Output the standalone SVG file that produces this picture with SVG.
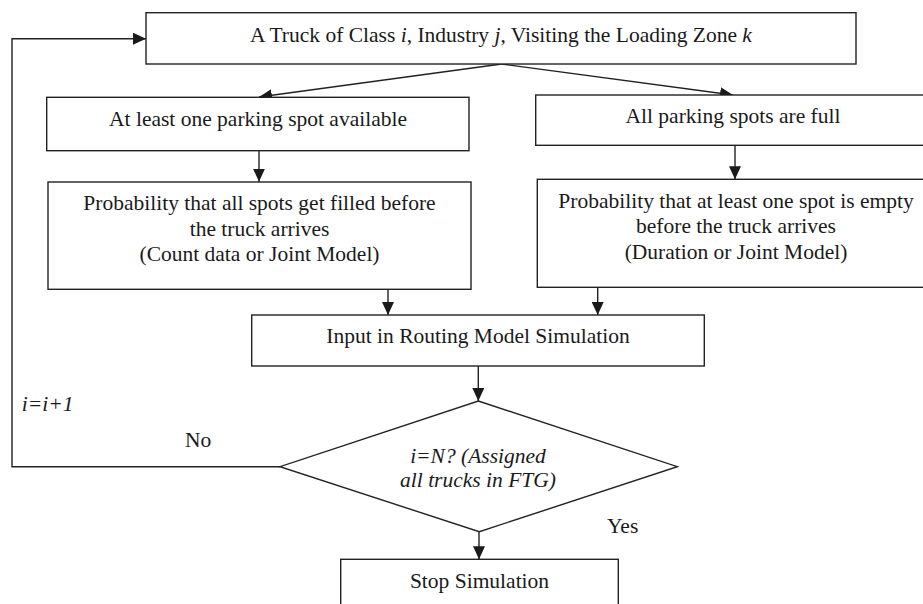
<svg xmlns="http://www.w3.org/2000/svg" width="923" height="604" viewBox="0 0 923 604">
<style>
.box{fill:#fff;stroke:#222;stroke-width:1.4}
.ln{fill:none;stroke:#222;stroke-width:1.4}
text{font-family:"Liberation Serif","Times New Roman",serif;font-size:21.5px;fill:#1a1a1a}
.c{text-anchor:middle}
.it{font-style:italic}
</style>
<defs>
<marker id="ah" markerUnits="userSpaceOnUse" markerWidth="13" markerHeight="12" refX="13" refY="6" orient="auto">
<path d="M0,0 L13,6 L0,12 z" fill="#1a1a1a"/>
</marker>
</defs>
<rect width="923" height="604" fill="#fff"/>
<g id="connectors">
<polyline class="ln" points="280,466.7 12,466.7 12,38.7 146,38.7" marker-end="url(#ah)"/>
<line class="ln" x1="501.7" y1="64" x2="259" y2="97" marker-end="url(#ah)"/>
<line class="ln" x1="501.7" y1="64" x2="733" y2="95" marker-end="url(#ah)"/>
<line class="ln" x1="259" y1="150.7" x2="259" y2="181.7" marker-end="url(#ah)"/>
<line class="ln" x1="735" y1="145.3" x2="735" y2="179.3" marker-end="url(#ah)"/>
<line class="ln" x1="388" y1="289.3" x2="388" y2="315" marker-end="url(#ah)"/>
<line class="ln" x1="597.7" y1="287.3" x2="597.7" y2="315" marker-end="url(#ah)"/>
<line class="ln" x1="478.3" y1="366" x2="478.3" y2="401" marker-end="url(#ah)"/>
<line class="ln" x1="479" y1="531.7" x2="479" y2="559.3" marker-end="url(#ah)"/>
</g>
<g id="start">
<rect class="box" x="146" y="12.7" width="710" height="51.3"/>
<text class="c" x="501" y="41.7">A Truck of Class <tspan class="it">i</tspan>, Industry <tspan class="it">j</tspan>, Visiting the Loading Zone <tspan class="it">k</tspan></text>
</g>
<g id="available">
<rect class="box" x="46.7" y="97.3" width="422.3" height="53.4"/>
<text class="c" x="258" y="126">At least one parking spot available</text>
</g>
<g id="full">
<rect class="box" x="535.7" y="95" width="395" height="50.3"/>
<text class="c" x="733" y="123">All parking spots are full</text>
</g>
<g id="prob-filled">
<rect class="box" x="48" y="182" width="423" height="107.3"/>
<text class="c" x="259.5" y="210">Probability that all spots get filled before</text>
<text class="c" x="259.5" y="235.5">the truck arrives</text>
<text class="c" x="259.5" y="261">(Count data or Joint Model)</text>
</g>
<g id="prob-empty">
<rect class="box" x="537.3" y="179.3" width="398" height="108"/>
<text class="c" x="736" y="208">Probability that at least one spot is empty</text>
<text class="c" x="736" y="233.3">before the truck arrives</text>
<text class="c" x="736" y="259.3">(Duration or Joint Model)</text>
</g>
<g id="input">
<rect class="box" x="251.7" y="315" width="452.6" height="51"/>
<text class="c" x="478" y="342.7">Input in Routing Model Simulation</text>
</g>
<g id="decision">
<polygon class="box" points="478.3,401 677.3,466.7 479.3,531.7 280,466.7"/>
<text class="c it" x="478" y="463">i=N? (Assigned</text>
<text class="c it" x="478" y="487.3">all trucks in FTG)</text>
</g>
<g id="stop">
<rect class="box" x="340.7" y="559.3" width="277.6" height="60"/>
<text class="c" x="479.5" y="588.3">Stop Simulation</text>
</g>
<g id="labels">
<text class="it" x="21.7" y="410.7">i=i+1</text>
<text x="185" y="446.7">No</text>
<text x="607" y="533.3">Yes</text>
</g>
</svg>
